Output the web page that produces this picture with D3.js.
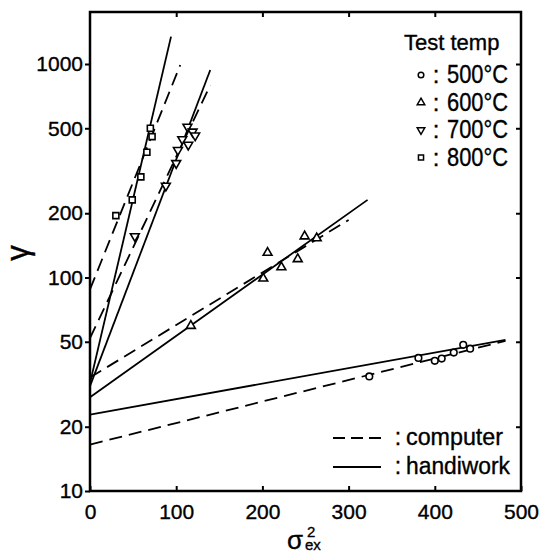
<!DOCTYPE html>
<html>
<head>
<meta charset="utf-8">
<script src="https://cdn.jsdelivr.net/npm/d3@7"></script>
<style>
body{margin:0;background:#fff;}
svg text{font-family:"Liberation Sans",Arial,sans-serif;fill:#000;stroke:#000;stroke-width:0.35px;}
</style>
</head>
<body>
<div id="chart"></div>
<script>
// values: [sigma_ex^2, gamma]
var temps = ["500", "600", "700", "800"];
var markers = ["circle", "triangleUp", "triangleDown", "square"];

var pts500 = [[324,34.4],[381,42.0],[400,40.7],[408,41.7],[422,44.5],[433,48.4],[441,46.4]];
var pts600 = [[117,59.4],[201,99],[206,130.6],[222,111.7],[241,122],[249,156],[263,152.8]];
var pts700 = [[52,156],[88,269],[100,343],[102,395],[107,444],[113,508],[114,418],[119,482],[122,462]];
var pts800 = [[30,195],[49,231],[59,296],[66,386],[70,500],[72,457]];

// fitted lines, start and end point
var computerLines = [[[0,16.5],[482,50.5]], [[0,34],[300,186]], [[0,52],[139.5,796]], [[0,88],[104.7,989]]];
var handworkLines = [[[0,22.8],[482,51]], [[0,27.5],[322,231]], [[0,31],[139.5,937]], [[0,32],[94,1343]]];

var xTicks = [0,100,200,300,400,500];
var yTicks = [10,20,50,100,200,500,1000];

var width = 542, height = 556;
var plotL = 90, plotR = 521, plotT = 12, plotB = 491;

var svg = d3.select("#chart").append("svg")
	.attr("width", width)
	.attr("height", height);

var x = d3.scaleLinear().domain([0, 500]).range([plotL, plotR]);
var y = d3.scaleLog().domain([10, 1000]).range([plotB, 64]);

function styleAxis(g){
	g.attr("font-family", null).attr("font-size", null);
	g.select(".domain").remove();
	g.selectAll(".tick line").attr("stroke", "#000").attr("stroke-width", 2);
	g.selectAll(".tick text").style("font-size", "21px");
}

svg.append("g")
	.attr("transform", "translate(0," + plotB + ")")
	.call(d3.axisBottom(x).tickValues(xTicks).tickSize(-5).tickPadding(13).tickFormat(d3.format("d")))
	.call(styleAxis);

svg.append("g")
	.attr("transform", "translate(" + plotL + ",0)")
	.call(d3.axisLeft(y).tickValues(yTicks).tickSize(5).tickPadding(2).tickFormat(d3.format("d")))
	.call(styleAxis);

svg.append("g")
	.attr("transform", "translate(0," + plotT + ")")
	.call(d3.axisTop(x).tickValues(xTicks.slice(1, 5)).tickSize(-5).tickFormat(""))
	.call(styleAxis);

svg.append("g")
	.attr("transform", "translate(" + plotR + ",0)")
	.call(d3.axisRight(y).tickValues(yTicks.slice(1)).tickSize(-5).tickFormat(""))
	.call(styleAxis);

svg.append("rect")
	.attr("x", plotL).attr("y", plotT)
	.attr("width", plotR - plotL).attr("height", plotB - plotT)
	.attr("fill", "none").attr("stroke", "#000").attr("stroke-width", 2.5);

var line = d3.line()
	.x(function(d){ return x(d[0]); })
	.y(function(d){ return y(d[1]); });

svg.append("g").selectAll("path")
	.data(computerLines)
	.enter().append("path")
	.attr("d", line)
	.attr("fill", "none").attr("stroke", "#000").attr("stroke-width", 1.8)
	.attr("stroke-dasharray", "13,7");

svg.append("g").selectAll("path")
	.data(handworkLines)
	.enter().append("path")
	.attr("d", line)
	.attr("fill", "none").attr("stroke", "#000").attr("stroke-width", 1.8);

function marker(sel, type, s){
	if(type == "circle"){
		sel.append("circle").attr("r", 3.3 * s);
		return;
	}
	var sym = d3.symbol().size((type == "square" ? 36 : 34) * s * s)
		.type(type == "square" ? d3.symbolSquare : d3.symbolTriangle);
	sel.append("path").attr("d", sym)
		.attr("transform", type == "triangleDown" ? "rotate(180)" : null);
}

var groups = [pts500, pts600, pts700, pts800];
groups.forEach(function(pts, i){
	svg.append("g").selectAll("g")
		.data(pts)
		.enter().append("g")
		.attr("transform", function(d){ return "translate(" + x(d[0]) + "," + y(d[1]) + ")"; })
		.attr("fill", "#fff").attr("stroke", "#000").attr("stroke-width", 1.6)
		.each(function(){ marker(d3.select(this), markers[i], 1); });
});

// legend: test temperature
svg.append("text").attr("x", 404).attr("y", 50).style("font-size", "22px").text("Test temp");

var leg = svg.append("g").selectAll("g")
	.data(temps)
	.enter().append("g")
	.attr("transform", function(d, i){ return "translate(0," + (83 + i * 27.5) + ")"; });

leg.append("g")
	.attr("transform", "translate(421,-8)")
	.attr("fill", "#fff").attr("stroke", "#000").attr("stroke-width", 1.5)
	.each(function(d, i){ marker(d3.select(this), markers[i], 0.85); });

leg.append("text").attr("x", 436).attr("text-anchor", "middle").style("font-size", "24px").text(":");
leg.append("text").attr("x", 447).style("font-size", "25px")
	.attr("textLength", 61).attr("lengthAdjust", "spacingAndGlyphs")
	.text(function(d){ return d + "°C"; });

// legend: line styles
var styles = [{label: "computer", dash: "12,6", w: 97}, {label: "handiwork", dash: null, w: 104}];
var leg2 = svg.append("g").selectAll("g")
	.data(styles)
	.enter().append("g")
	.attr("transform", function(d, i){ return "translate(0," + (445 + i * 29) + ")"; });

leg2.append("line")
	.attr("x1", 333).attr("x2", 381).attr("y1", -7).attr("y2", -7)
	.attr("stroke", "#000").attr("stroke-width", 1.8)
	.attr("stroke-dasharray", function(d){ return d.dash; });
leg2.append("text").attr("x", 398).attr("text-anchor", "middle").style("font-size", "23px").text(":");
leg2.append("text").attr("x", 406).style("font-size", "23px")
	.attr("textLength", function(d){ return d.w; }).attr("lengthAdjust", "spacingAndGlyphs")
	.text(function(d){ return d.label; });

// axis titles
svg.append("text").attr("x", 287).attr("y", 549).style("font-size", "26px").text("σ");
svg.append("text").attr("x", 307).attr("y", 537).style("font-size", "15px").text("2");
svg.append("text").attr("x", 305).attr("y", 550).style("font-size", "15px").text("ex");

svg.append("text")
	.attr("transform", "translate(28,253) rotate(-90)")
	.attr("text-anchor", "middle")
	.style("font-size", "31px")
	.text("γ");
</script>
</body>
</html>
